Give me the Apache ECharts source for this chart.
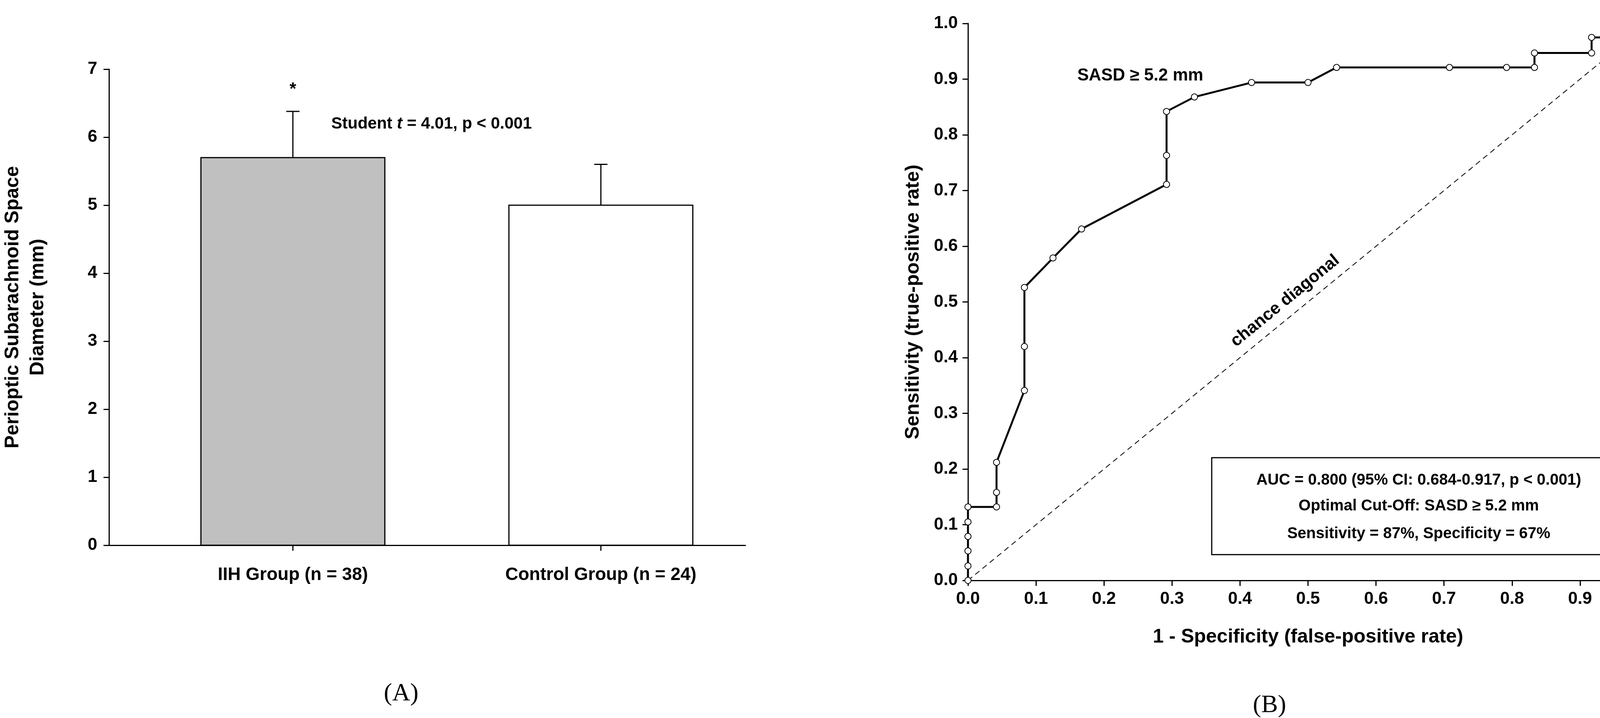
<!DOCTYPE html>
<html><head><meta charset="utf-8">
<script src="https://cdn.jsdelivr.net/npm/echarts@6/dist/echarts.min.js"></script>
<style>html,body{margin:0;padding:0;background:#fff;overflow:hidden}#c{width:4273px;height:1837px}</style>
</head><body><div id="c"></div>
<script>
const groups = ['IIH Group (n = 38)', 'Control Group (n = 24)'];
const means = [5.7, 5.0];
const errs = [0.68, 0.6];
const fills = ['#c0c0c0', '#ffffff'];
const rocX = [0,0,0,0,0,0,0.042,0.042,0.042,0.083,0.083,0.083,0.125,0.167,0.292,0.292,0.292,0.333,0.417,0.5,0.542,0.708,0.792,0.833,0.833,0.917,0.917,0.958,0.958,1];
const rocY = [0,0.026,0.053,0.079,0.105,0.132,0.132,0.158,0.212,0.341,0.42,0.526,0.579,0.631,0.711,0.763,0.842,0.868,0.894,0.894,0.921,0.921,0.921,0.921,0.947,0.947,0.975,0.975,1,1];
const yTicksA = [0,1,2,3,4,5,6,7];

const F = 'Liberation Sans, Arial, sans-serif';
const barPos = [0.289, 0.773]; // layout
const barHalf = 0.1445;
const chart = echarts.init(document.getElementById('c'));
const axStyle = {lineStyle:{color:'#000',width:3}};
chart.setOption({
  animation:false,
  backgroundColor:'#fff',
  grid:[{left:274,top:177,width:1634,height:1218},{left:2478,top:60,width:1741,height:1425}],
  xAxis:[
    {gridIndex:0,type:'value',min:0,max:1,axisLine:{show:true,...axStyle,onZero:false},axisTick:{show:false},axisLabel:{show:false},splitLine:{show:false}},
    {gridIndex:0,type:'value',position:'top',min:0,max:1,axisLine:{show:true,...axStyle},axisTick:{show:false},axisLabel:{show:false},splitLine:{show:false}},
    {gridIndex:1,type:'value',min:0,max:1,interval:0.1,axisLine:{show:true,...axStyle,onZero:false},axisTick:{show:true,length:14,lineStyle:{color:'#000',width:3}},
      axisLabel:{fontFamily:F,fontWeight:'bold',fontSize:44,color:'#000',margin:26,formatter:v=>v.toFixed(1)},splitLine:{show:false},
      name:'1 - Specificity (false-positive rate)',nameLocation:'middle',nameGap:120,nameTextStyle:{fontFamily:F,fontWeight:'bold',fontSize:50,color:'#000'}},
    {gridIndex:1,type:'value',position:'top',min:0,max:1,axisLine:{show:true,...axStyle},axisTick:{show:false},axisLabel:{show:false},splitLine:{show:false}}
  ],
  yAxis:[
    {gridIndex:0,type:'value',min:0,max:7,interval:1,axisLine:{show:true,...axStyle},axisTick:{show:true,length:14,lineStyle:{color:'#000',width:3}},
      axisLabel:{fontFamily:F,fontWeight:'bold',fontSize:44,color:'#000',margin:30},splitLine:{show:false},
      name:'Perioptic Subarachnoid Space\nDiameter (mm)',nameLocation:'middle',nameGap:150,nameTextStyle:{fontFamily:F,fontWeight:'bold',fontSize:50,color:'#000',lineHeight:64}},
    {gridIndex:1,type:'value',min:0,max:1,interval:0.1,axisLine:{show:true,...axStyle,onZero:false},axisTick:{show:true,length:14,lineStyle:{color:'#000',width:3}},
      axisLabel:{fontFamily:F,fontWeight:'bold',fontSize:44,color:'#000',margin:26,formatter:v=>v.toFixed(1)},splitLine:{show:false},
      name:'Sensitivity (true-positive rate)',nameLocation:'middle',nameGap:115,nameTextStyle:{fontFamily:F,fontWeight:'bold',fontSize:50,color:'#000'}},
    {gridIndex:1,type:'value',position:'right',min:0,max:1,axisLine:{show:true,...axStyle},axisTick:{show:false},axisLabel:{show:false},splitLine:{show:false}}
  ],
  series:[
    {type:'custom',xAxisIndex:0,yAxisIndex:0,data:means.map((m,i)=>[barPos[i],m,errs[i],i]),
      renderItem:(p,api)=>{
        const x=api.value(0), m=api.value(1), e=api.value(2), i=api.value(3);
        const a=api.coord([x-barHalf,m]), b=api.coord([x+barHalf,0]);
        const c=api.coord([x,m]), t=api.coord([x,m+e]), bt=api.coord([x,0]);
        const ch=[
          {type:'rect',shape:{x:a[0],y:a[1],width:b[0]-a[0],height:b[1]-a[1]},style:{fill:fills[i],stroke:'#000',lineWidth:3}},
          {type:'line',shape:{x1:c[0],y1:c[1],x2:t[0],y2:t[1]},style:{stroke:'#000',lineWidth:3}},
          {type:'line',shape:{x1:t[0]-17,y1:t[1],x2:t[0]+17,y2:t[1]},style:{stroke:'#000',lineWidth:3}},
          {type:'line',shape:{x1:bt[0],y1:bt[1],x2:bt[0],y2:bt[1]+14},style:{stroke:'#000',lineWidth:3}},
          {type:'text',x:bt[0],y:bt[1]+76,style:{text:groups[i],fontFamily:F,fontWeight:'bold',fontSize:46,fill:'#000',align:'center',verticalAlign:'middle'}}
        ];
        if(i===0) ch.push({type:'text',x:t[0],y:t[1]-55,style:{text:'*',fontFamily:F,fontWeight:'bold',fontSize:44,fill:'#000',align:'center',verticalAlign:'middle'}});
        return {type:'group',children:ch};
      }},
    {type:'line',xAxisIndex:2,yAxisIndex:1,data:[[0,0],[1,1]],symbol:'none',lineStyle:{color:'#000',width:2,type:[14,10]}},
    {type:'line',xAxisIndex:2,yAxisIndex:1,data:rocX.map((x,i)=>[x,rocY[i]]),symbol:'emptyCircle',symbolSize:16,showSymbol:true,showAllSymbol:true,
      lineStyle:{color:'#000',width:5},itemStyle:{color:'#000',borderWidth:4}}
  ],
  graphic:[
    {type:'text',left:848,top:296,style:{rich:{b:{fontFamily:F,fontWeight:'bold',fontSize:42},i:{fontFamily:F,fontWeight:'bold',fontStyle:'italic',fontSize:42}},text:'{b|Student }{i|t}{b| = 4.01, p < 0.001}',fill:'#000'}},
    {type:'text',left:2758,top:172,style:{text:'SASD ≥ 5.2 mm',fontFamily:F,fontWeight:'bold',fontSize:44,fill:'#000'}},
    {type:'text',x:3290,y:770,rotation:39.3*Math.PI/180,style:{text:'chance diagonal',fontFamily:F,fontWeight:'bold',fontSize:44,fill:'#000',align:'center',verticalAlign:'middle'}},
    {type:'rect',shape:{x:3102,y:1171,width:1061,height:248},style:{fill:'#fff',stroke:'#000',lineWidth:3}},
    {type:'text',x:3632,y:1229,style:{text:'AUC = 0.800 (95% CI: 0.684-0.917, p < 0.001)',fontFamily:F,fontWeight:'bold',fontSize:40,fill:'#000',align:'center',verticalAlign:'middle'}},
    {type:'text',x:3632,y:1295,style:{text:'Optimal Cut-Off: SASD ≥ 5.2 mm',fontFamily:F,fontWeight:'bold',fontSize:40,fill:'#000',align:'center',verticalAlign:'middle'}},
    {type:'text',x:3632,y:1366,style:{text:'Sensitivity = 87%, Specificity = 67%',fontFamily:F,fontWeight:'bold',fontSize:40,fill:'#000',align:'center',verticalAlign:'middle'}},
    {type:'text',x:1027,y:1775,style:{text:'(A)',fontFamily:'Liberation Serif, serif',fontSize:64,fill:'#000',align:'center',verticalAlign:'middle'}},
    {type:'text',x:3250,y:1805,style:{text:'(B)',fontFamily:'Liberation Serif, serif',fontSize:64,fill:'#000',align:'center',verticalAlign:'middle'}}
  ]
});
</script></body></html>
